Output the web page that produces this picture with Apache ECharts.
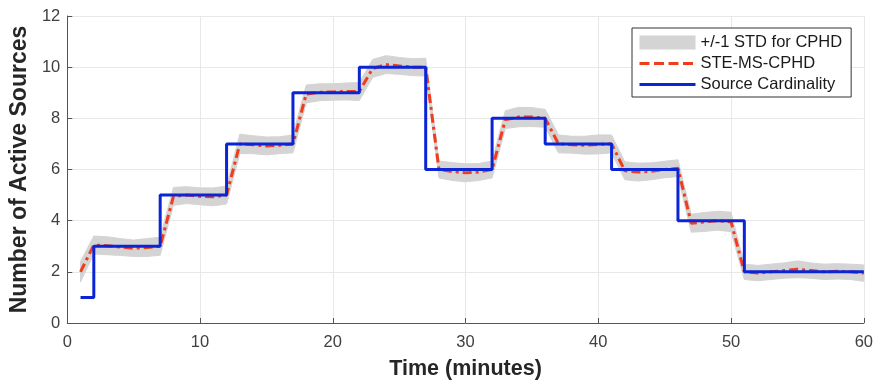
<!DOCTYPE html>
<html>
<head>
<meta charset="utf-8">
<script src="https://cdn.jsdelivr.net/npm/echarts@6/dist/echarts.min.js"></script>
<style>
  html, body { margin: 0; padding: 0; background: #fff; }
  #chart { width: 876px; height: 385px; }
</style>
</head>
<body>
<div id="chart"></div>
<script>
// minutes 1..60
const minutes = Array.from({ length: 60 }, (_, i) => i + 1);

// STE-MS-CPHD estimate, one value per minute
const estimate = [
  2.0, 3.05, 3.02, 2.97, 2.92, 2.95, 3.0,
  4.95, 5.0, 4.95, 4.93, 5.0,
  7.0, 6.97, 6.92, 6.95, 7.0,
  8.95, 9.02, 9.03, 9.05, 9.05,
  9.95, 10.1, 10.05, 10.0, 10.0,
  6.0, 5.92, 5.87, 5.9, 6.0,
  7.95, 8.05, 8.05, 8.0,
  7.0, 6.97, 6.95, 6.98, 7.0,
  5.95, 5.9, 5.93, 6.0, 6.05,
  3.9, 3.95, 4.0, 3.95,
  2.0, 1.95, 2.0, 2.05, 2.1, 2.05, 2.0, 2.02, 2.0, 1.95
];

// one standard deviation of the estimate, per minute
const stdDev = [
  0.4, 0.35, 0.35, 0.33, 0.32, 0.35, 0.35,
  0.35, 0.33, 0.33, 0.35, 0.35,
  0.38, 0.35, 0.35, 0.33, 0.35,
  0.35, 0.33, 0.32, 0.33, 0.35,
  0.35, 0.35, 0.33, 0.33, 0.35,
  0.33, 0.35, 0.35, 0.33, 0.33,
  0.35, 0.38, 0.37, 0.35,
  0.35, 0.33, 0.35, 0.37, 0.35,
  0.35, 0.35, 0.33, 0.32, 0.33,
  0.35, 0.37, 0.37, 0.38,
  0.3, 0.3, 0.3, 0.3, 0.33, 0.3, 0.3, 0.3, 0.3, 0.32
];

// true source cardinality: value holds from each change time onward
const changeTimes = [1, 2, 7, 12, 17, 22, 27, 32, 36, 41, 46, 51, 60];
const cardinality = [1, 3, 5, 7, 9, 10, 6, 8, 7, 6, 4, 2, 2];

const xTicks = [0, 10, 20, 30, 40, 50, 60];
const yTicks = [0, 2, 4, 6, 8, 10, 12];

const FONT = '"Liberation Sans", Arial, Helvetica, sans-serif';
const chart = echarts.init(document.getElementById('chart'), null, { renderer: 'canvas' });

const bandData = minutes.map((t, i) => [t, estimate[i] - stdDev[i], estimate[i] + stdDev[i]]);

const option = {
  backgroundColor: '#fff',
  animation: false,
  grid: { left: 67, right: 11, top: 16, bottom: 62 },
  legend: {
    orient: 'vertical',
    left: 632,
    top: 28,
    backgroundColor: '#fff',
    borderColor: '#333',
    borderWidth: 1,
    borderRadius: 0,
    padding: [6, 9, 4, 6],
    itemGap: 4,
    itemWidth: 56,
    itemHeight: 14,
    textStyle: { fontFamily: FONT, fontSize: 16.5, color: '#1a1a1a' },
    data: [
      { name: '+/-1 STD for CPHD', icon: 'rect', itemStyle: { color: '#d4d4d4' } },
      { name: 'STE-MS-CPHD', itemStyle: { opacity: 0 }, lineStyle: { type: [10, 4.5], width: 3 } },
      { name: 'Source Cardinality', itemStyle: { opacity: 0 }, lineStyle: { type: 'solid', width: 3 } }
    ]
  },
  xAxis: {
    type: 'value',
    min: xTicks[0],
    max: xTicks[xTicks.length - 1],
    interval: 10,
    name: 'Time (minutes)',
    nameLocation: 'middle',
    nameGap: 35,
    nameTextStyle: { fontFamily: FONT, fontSize: 21.5, fontWeight: 'bold', color: '#262626' },
    axisLine: { lineStyle: { color: '#555', width: 1 } },
    axisTick: { inside: true, length: 5, lineStyle: { color: '#555' } },
    axisLabel: { fontFamily: FONT, fontSize: 16.5, color: '#404040', margin: 11 },
    splitLine: { show: true, lineStyle: { color: '#e8e8e8', width: 1 } }
  },
  yAxis: {
    type: 'value',
    min: yTicks[0],
    max: yTicks[yTicks.length - 1],
    interval: 2,
    name: 'Number of Active Sources',
    nameLocation: 'middle',
    nameGap: 34,
    nameTextStyle: { fontFamily: FONT, fontSize: 23, fontWeight: 'bold', color: '#262626' },
    axisLine: { show: true, lineStyle: { color: '#555', width: 1 } },
    axisTick: { show: true, inside: true, length: 5, lineStyle: { color: '#555' } },
    axisLabel: { fontFamily: FONT, fontSize: 16.5, color: '#404040', margin: 7 },
    splitLine: { show: true, lineStyle: { color: '#e8e8e8', width: 1 } }
  },
  series: [
    {
      name: '+/-1 STD for CPHD',
      type: 'custom',
      itemStyle: { color: '#d4d4d4' },
      data: bandData,
      encode: { x: 0, y: [1, 2] },
      z: 1,
      renderItem: (params, api) => {
        if (params.dataIndex !== 0) return null;
        const top = bandData.map((d) => api.coord([d[0], d[2]]));
        const bottom = bandData.map((d) => api.coord([d[0], d[1]])).reverse();
        return {
          type: 'polygon',
          shape: { points: top.concat(bottom) },
          style: { fill: '#d4d4d4', stroke: '#d4d4d4', lineWidth: 1 }
        };
      }
    },
    {
      name: 'STE-MS-CPHD',
      type: 'line',
      symbol: 'none',
      z: 3,
      data: minutes.map((t, i) => [t, estimate[i]]),
      itemStyle: { color: '#f23d1c' },
      lineStyle: { color: '#f23d1c', width: 3, type: [9, 4, 3, 4] }
    },
    {
      name: 'Source Cardinality',
      type: 'line',
      symbol: 'none',
      step: 'end',
      z: 4,
      data: changeTimes.map((t, i) => [t, cardinality[i]]),
      itemStyle: { color: '#0b24d6' },
      lineStyle: { color: '#0b24d6', width: 3 }
    }
  ]
};

chart.setOption(option);
</script>
</body>
</html>
